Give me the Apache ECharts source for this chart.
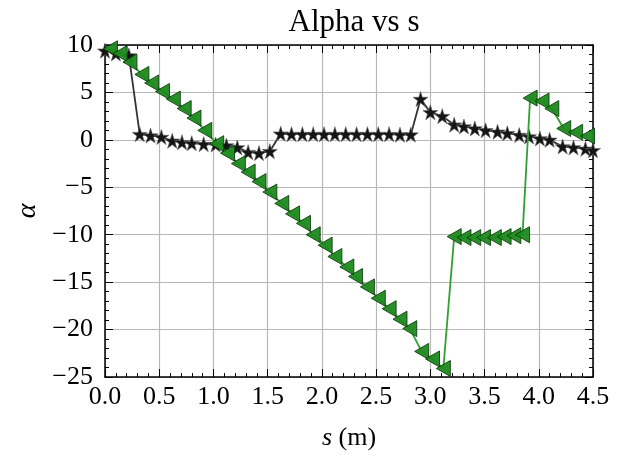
<!DOCTYPE html>
<html>
<head>
<meta charset="utf-8">
<script src="https://cdn.jsdelivr.net/npm/echarts@6/dist/echarts.min.js"></script>
<style>
  html, body { margin: 0; padding: 0; background: #fff; }
  #chart { width: 628px; height: 457px; }
</style>
</head>
<body>
<div id="chart"></div>
<script>
// values
var starS = [0.0, 0.1, 0.22, 0.32, 0.42, 0.52, 0.62, 0.71, 0.8, 0.91, 1.02, 1.12, 1.22, 1.32, 1.42, 1.52,
             1.62, 1.72, 1.82, 1.92, 2.02, 2.12, 2.22, 2.32, 2.42, 2.52, 2.62, 2.72, 2.82,
             2.91, 3.0, 3.11, 3.22, 3.31, 3.41, 3.51, 3.62, 3.71, 3.82, 3.91, 4.01, 4.1, 4.22, 4.32, 4.43, 4.5];
var starAlpha = [9.4, 9.1, 8.9, 0.6, 0.45, 0.3, -0.1, -0.25, -0.35, -0.45, -0.5, -0.6, -0.8, -1.3, -1.4, -1.2,
                 0.65, 0.6, 0.6, 0.6, 0.6, 0.6, 0.6, 0.6, 0.6, 0.6, 0.6, 0.55, 0.55,
                 4.3, 2.9, 2.5, 1.6, 1.4, 1.2, 1.0, 0.85, 0.7, 0.5, 0.35, 0.15, 0.0, -0.7, -0.8, -0.95, -1.1];

var triS = [0.05, 0.14, 0.23, 0.34, 0.43, 0.53, 0.63, 0.73, 0.82, 0.92, 1.03, 1.13, 1.23, 1.32, 1.42,
            1.52, 1.63, 1.73, 1.83, 1.92, 2.03, 2.12, 2.23, 2.31, 2.42, 2.52, 2.62, 2.72, 2.81,
            2.92, 3.02, 3.12, 3.22, 3.31, 3.40, 3.49, 3.59, 3.68, 3.77, 3.85,
            3.92, 4.03, 4.12, 4.23, 4.34, 4.45];
var triAlpha = [9.6, 9.1, 8.2, 6.9, 6.0, 5.1, 4.3, 3.3, 2.3, 1.0, -0.4, -1.4, -2.5, -3.4, -4.4,
                -5.5, -6.7, -7.8, -8.8, -10.0, -11.1, -12.3, -13.4, -14.4, -15.5, -16.7, -17.8, -18.9, -19.9,
                -22.3, -23.1, -24.1, -10.2, -10.3, -10.3, -10.3, -10.3, -10.2, -10.1, -10.0,
                4.4, 4.1, 3.3, 1.2, 0.8, 0.4];

var xMin = 0, xMax = 4.5, xStep = 0.5;
var yMin = -25, yMax = 10, yStep = 5;

var serif = 'Liberation Serif';
var starPath = 'path://M50 0L61.2 34.5L97.6 34.5L68.2 55.9L79.4 90.5L50 69.1L20.6 90.5L31.8 55.9L2.4 34.5L38.8 34.5Z';

function pairs(xs, ys) {
    return xs.map(function (x, i) { return [x, ys[i]]; });
}
function minus(v) {
    return String(v).replace('-', '\u2212');
}

var frameAxis = {
    axisLine: { show: true, onZero: false, lineStyle: { color: '#000', width: 1.5 } },
    axisTick: { show: true, inside: true, length: 8, lineStyle: { color: '#000', width: 1 } },
    minorTick: { show: true, splitNumber: 5, length: 4, lineStyle: { color: '#000', width: 1 } }
};

var myChart = echarts.init(document.getElementById('chart'), null, { renderer: 'canvas' });
var option = {
    backgroundColor: '#fff',
    animation: false,
    title: {
        text: 'Alpha vs s',
        left: 349,
        textAlign: 'center',
        top: 2,
        textStyle: { fontFamily: serif, fontSize: 31, fontWeight: 'normal', color: '#000' }
    },
    grid: { left: 105, right: 35, top: 45, bottom: 80 },
    xAxis: [
        Object.assign({
            type: 'value', min: xMin, max: xMax, interval: xStep, position: 'bottom',
            name: '{i|s} (m)',
            nameLocation: 'middle',
            nameGap: 48,
            nameTextStyle: {
                fontFamily: serif, fontSize: 26, color: '#000',
                rich: { i: { fontFamily: serif, fontSize: 26, fontStyle: 'italic', color: '#000' } }
            },
            axisLabel: {
                margin: 7, fontFamily: serif, fontSize: 26, color: '#000',
                formatter: function (v) { return v.toFixed(1); }
            },
            splitLine: { show: true, lineStyle: { color: '#b8b8b8', width: 1.2 } }
        }, frameAxis),
        Object.assign({
            type: 'value', min: xMin, max: xMax, interval: xStep, position: 'top',
            axisLabel: { show: false },
            splitLine: { show: false }
        }, frameAxis)
    ],
    yAxis: [
        Object.assign({
            type: 'value', min: yMin, max: yMax, interval: yStep, position: 'left',
            name: 'α',
            nameLocation: 'middle',
            nameGap: 60,
            nameRotate: 90,
            nameTextStyle: { fontFamily: serif, fontSize: 28, fontStyle: 'italic', color: '#000' },
            axisLabel: {
                margin: 12, fontFamily: serif, fontSize: 26, color: '#000',
                formatter: minus
            },
            splitLine: { show: true, lineStyle: { color: '#b8b8b8', width: 1.2 } }
        }, frameAxis),
        Object.assign({
            type: 'value', min: yMin, max: yMax, interval: yStep, position: 'right',
            axisLabel: { show: false },
            splitLine: { show: false }
        }, frameAxis)
    ],
    series: [
        {
            name: 'star',
            type: 'line',
            data: pairs(starS, starAlpha),
            symbol: starPath,
            symbolSize: 15,
            showAllSymbol: true,
            lineStyle: { color: '#333', width: 1.8 },
            itemStyle: { color: '#151515', borderColor: '#666', borderWidth: 0.6 },
            z: 2
        },
        {
            name: 'triangle',
            type: 'line',
            data: pairs(triS, triAlpha),
            symbol: 'triangle',
            symbolRotate: 90,
            symbolSize: [16, 14],
            showAllSymbol: true,
            lineStyle: { color: '#30a030', width: 1.8 },
            itemStyle: { color: '#1d8a1d', borderColor: '#0c3a0c', borderWidth: 0.9, opacity: 0.95 },
            z: 3
        }
    ]
};
myChart.setOption(option);
</script>
</body>
</html>
